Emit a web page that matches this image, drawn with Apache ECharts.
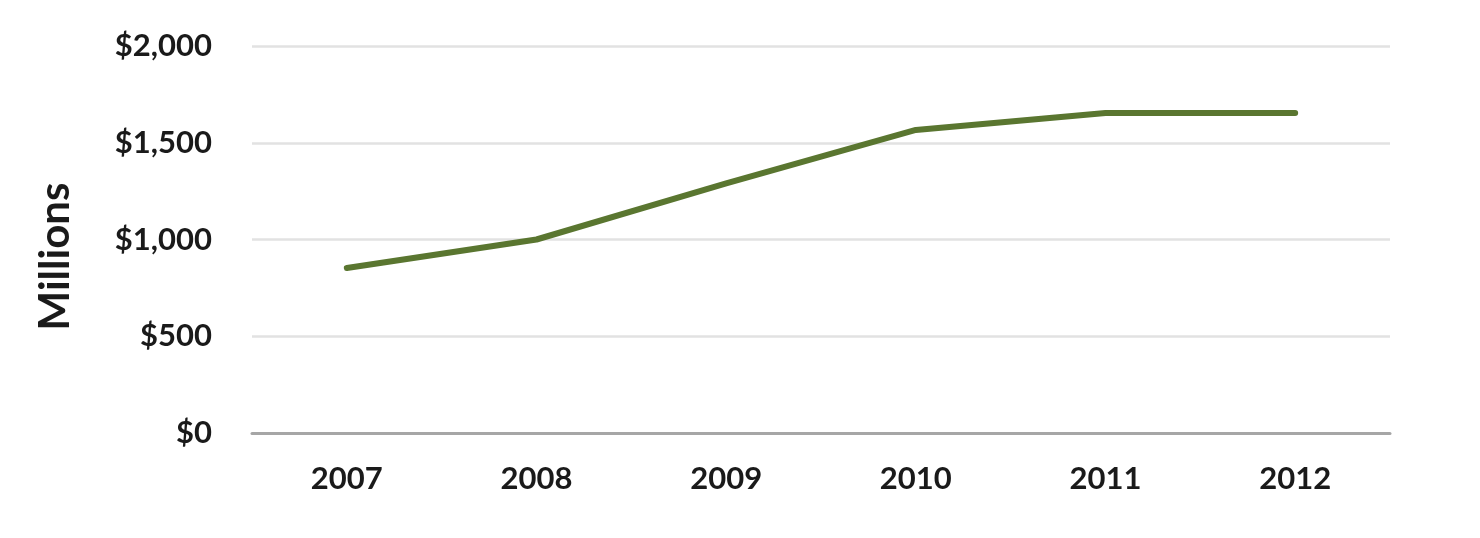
<!DOCTYPE html>
<html>
<head>
<meta charset="utf-8">
<script src="https://cdn.jsdelivr.net/npm/echarts@6/dist/echarts.min.js"></script>
<style>
  html, body { margin: 0; padding: 0; background: #ffffff; }
  #chart { width: 1480px; height: 538px; }
</style>
</head>
<body>
<div id="chart"></div>
<script>
const categories = ['2007', '2008', '2009', '2010', '2011', '2012'];
const values = [853, 1000, 1290, 1566, 1654, 1654];
const yMin = 0;
const yMax = 2000;
const yInterval = 500;
const yAxisTitle = 'Millions';

const chart = echarts.init(document.getElementById('chart'), null, { renderer: 'canvas' });
const fontFamily = 'Lato, "Open Sans", "Noto Sans", sans-serif';

chart.setOption({
  backgroundColor: '#ffffff',
  animation: false,
  grid: { left: 252, right: 90, top: 46, bottom: 105 },
  xAxis: {
    type: 'category',
    data: categories,
    boundaryGap: true,
    axisLine: { show: true, lineStyle: { color: '#a6a6a6', width: 3 } },
    axisTick: { show: false },
    axisLabel: {
      margin: 30,
      color: '#1a1a1a',
      fontFamily: fontFamily,
      fontWeight: 'bold',
      fontSize: 31
    }
  },
  yAxis: {
    type: 'value',
    min: yMin,
    max: yMax,
    interval: yInterval,
    name: yAxisTitle,
    nameLocation: 'middle',
    nameGap: 176,
    nameRotate: 90,
    nameTextStyle: {
      color: '#1a1a1a',
      fontFamily: fontFamily,
      fontWeight: 'bold',
      fontSize: 42,
      padding: [0, 34, 0, 0]
    },
    axisLine: { show: false },
    axisTick: { show: false },
    splitLine: { show: true, lineStyle: { color: '#e2e2e2', width: 2.5 } },
    axisLabel: {
      margin: 40,
      color: '#1a1a1a',
      fontFamily: fontFamily,
      fontWeight: 'bold',
      fontSize: 31,
      formatter: function (v) { return '$' + v.toLocaleString('en-US'); }
    }
  },
  series: [{
    type: 'line',
    data: values,
    showSymbol: false,
    symbol: 'none',
    lineStyle: { color: '#5a7630', width: 6, cap: 'round', join: 'round' },
    itemStyle: { color: '#5a7630' }
  }]
});
</script>
</body>
</html>
